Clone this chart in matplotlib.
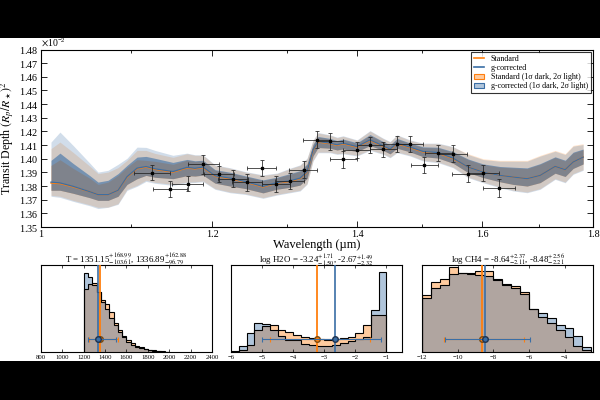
import matplotlib
matplotlib.use('Agg')
import matplotlib.pyplot as plt
from matplotlib.patches import Rectangle, Patch
from matplotlib.lines import Line2D
from matplotlib.ticker import FixedLocator, FixedFormatter, NullFormatter, ScalarFormatter, MultipleLocator
from matplotlib.colors import to_rgba
import numpy as np

plt.rcParams['font.family'] = 'serif'
plt.rcParams['font.serif'] = ['Liberation Serif', 'DejaVu Serif']
plt.rcParams['mathtext.fontset'] = 'stix'

# ---------------- data (transit depth in units of 1e-2) ----------------
obs_wl = [1.1257, 1.1477, 1.1690, 1.1887, 1.2084, 1.2273, 1.2458, 1.2650, 1.2845, 1.3037,
          1.3225, 1.3410, 1.3605, 1.3799, 1.3996, 1.4198, 1.4400, 1.4607, 1.4810, 1.5039,
          1.5264, 1.5499, 1.5752, 1.6017, 1.6287]
obs_depth = [1.3898, 1.3780, 1.3818, 1.3959, 1.3886, 1.3854, 1.3827, 1.3932, 1.3815, 1.3837,
             1.3920, 1.4139, 1.4129, 1.3995, 1.4061, 1.4100, 1.4068, 1.4110, 1.4105, 1.3956,
             1.4042, 1.4037, 1.3891, 1.3895, 1.3788]
obs_yerr = [0.0057, 0.0058, 0.0055, 0.0070, 0.0060, 0.0060, 0.0062, 0.0058, 0.0060, 0.0058,
            0.0060, 0.0062, 0.0062, 0.0060, 0.0058, 0.0060, 0.0058, 0.0058, 0.0058, 0.0060,
            0.0062, 0.0060, 0.0065, 0.0060, 0.0065]
obs_xerr = [0.0219, 0.0208, 0.0199, 0.0196, 0.0193, 0.0196, 0.0199, 0.0198, 0.0198, 0.0201,
            0.0197, 0.0190, 0.0193, 0.0201, 0.0201, 0.0204, 0.0207, 0.0210, 0.0213, 0.0216,
            0.0219, 0.0243, 0.0257, 0.0264, 0.0283]

model_wl = [1.0107, 1.0204, 1.0347, 1.0536, 1.0626, 1.0740, 1.0855, 1.0959, 1.1077, 1.1183,
            1.1291, 1.1509, 1.1682, 1.1782, 1.1883, 1.2036, 1.2230, 1.2427, 1.2667, 1.2858,
            1.3037, 1.3177, 1.3275, 1.3360, 1.3432, 1.3604, 1.3706, 1.3794, 1.4001, 1.4196,
            1.4395, 1.4502, 1.4611, 1.4815, 1.5021, 1.5263, 1.5508, 1.5758, 1.6012, 1.6304,
            1.6532, 1.6780, 1.7014, 1.7288, 1.7474, 1.7623, 1.7812]

std_med = [1.3822, 1.3818, 1.3794, 1.3758, 1.3737, 1.3737, 1.3769, 1.3864, 1.3927, 1.3939,
           1.3922, 1.3902, 1.3933, 1.3926, 1.3935, 1.3871, 1.3854, 1.3829, 1.3793, 1.3822,
           1.3834, 1.3854, 1.3902, 1.4061, 1.4122, 1.4110, 1.4098, 1.4110, 1.4085, 1.4134,
           1.4090, 1.4066, 1.4110, 1.4081, 1.4049, 1.4041, 1.4000, 1.3939, 1.3902, 1.3878,
           1.3866, 1.3854, 1.3878, 1.3944, 1.3920, 1.3976, 1.4012]
std_hi2 = [1.4074, 1.4122, 1.4047, 1.3944, 1.3891, 1.3902, 1.3935, 1.3988, 1.4061, 1.4061,
           1.4039, 1.4010, 1.4037, 1.4025, 1.4025, 1.3951, 1.3930, 1.3902, 1.3878, 1.3891,
           1.3927, 1.3951, 1.4000, 1.4134, 1.4188, 1.4171, 1.4154, 1.4164, 1.4134, 1.4202,
           1.4147, 1.4122, 1.4171, 1.4134, 1.4110, 1.4110, 1.4085, 1.4037, 1.4000, 1.3988,
           1.3988, 1.3988, 1.4025, 1.4061, 1.4037, 1.4098, 1.4110]
std_hi1 = [1.3951, 1.3993, 1.3930, 1.3856, 1.3812, 1.3829, 1.3878, 1.3937, 1.3993, 1.3988,
           1.3981, 1.3959, 1.3990, 1.3980, 1.3984, 1.3915, 1.3896, 1.3870, 1.3840, 1.3860,
           1.3886, 1.3908, 1.3957, 1.4101, 1.4158, 1.4144, 1.4128, 1.4139, 1.4112, 1.4172,
           1.4121, 1.4097, 1.4144, 1.4110, 1.4082, 1.4079, 1.4047, 1.3993, 1.3957, 1.3938,
           1.3933, 1.3928, 1.3959, 1.4009, 1.3984, 1.4043, 1.4066]
std_lo1 = [1.3769, 1.3769, 1.3747, 1.3714, 1.3695, 1.3695, 1.3725, 1.3812, 1.3854, 1.3878,
           1.3864, 1.3854, 1.3876, 1.3873, 1.3880, 1.3821, 1.3800, 1.3782, 1.3750, 1.3777,
           1.3791, 1.3807, 1.3856, 1.4021, 1.4082, 1.4077, 1.4064, 1.4072, 1.4052, 1.4097,
           1.4061, 1.4036, 1.4077, 1.4050, 1.4015, 1.4005, 1.3967, 1.3899, 1.3862, 1.3831,
           1.3812, 1.3800, 1.3825, 1.3894, 1.3870, 1.3929, 1.3962]
std_lo2 = [1.3732, 1.3725, 1.3695, 1.3662, 1.3644, 1.3646, 1.3671, 1.3776, 1.3805, 1.3842,
           1.3827, 1.3812, 1.3829, 1.3831, 1.3837, 1.3781, 1.3756, 1.3744, 1.3715, 1.3739,
           1.3756, 1.3769, 1.3818, 1.3988, 1.4049, 1.4049, 1.4037, 1.4041, 1.4025, 1.4066,
           1.4037, 1.4012, 1.4049, 1.4025, 1.3988, 1.3976, 1.3939, 1.3866, 1.3829, 1.3793,
           1.3769, 1.3756, 1.3781, 1.3854, 1.3829, 1.3891, 1.3920]

gc_med = [1.3829, 1.3823, 1.3798, 1.3758, 1.3737, 1.3737, 1.3769, 1.3868, 1.3931, 1.3943,
          1.3926, 1.3906, 1.3937, 1.3930, 1.3939, 1.3875, 1.3858, 1.3833, 1.3797, 1.3826,
          1.3838, 1.3858, 1.3906, 1.4065, 1.4126, 1.4114, 1.4102, 1.4114, 1.4089, 1.4138,
          1.4094, 1.4070, 1.4114, 1.4085, 1.4053, 1.4045, 1.4004, 1.3939, 1.3902, 1.3878,
          1.3866, 1.3854, 1.3878, 1.3944, 1.3920, 1.3976, 1.4012]
gc_hi2 = [1.4122, 1.4195, 1.4098, 1.3966, 1.3902, 1.3915, 1.3959, 1.4003, 1.4085, 1.4083,
          1.4061, 1.4025, 1.4041, 1.4029, 1.4029, 1.3955, 1.3934, 1.3906, 1.3882, 1.3895,
          1.3931, 1.3955, 1.4004, 1.4138, 1.4192, 1.4175, 1.4158, 1.4168, 1.4138, 1.4206,
          1.4151, 1.4126, 1.4175, 1.4138, 1.4114, 1.4114, 1.4089, 1.4031, 1.3994, 1.3982,
          1.3982, 1.3982, 1.4019, 1.4055, 1.4031, 1.4092, 1.4104]
gc_hi1 = [1.3988, 1.4041, 1.3966, 1.3875, 1.3829, 1.3842, 1.3891, 1.3951, 1.4012, 1.4017,
          1.4003, 1.3973, 1.3995, 1.3985, 1.3989, 1.3920, 1.3901, 1.3875, 1.3845, 1.3865,
          1.3891, 1.3913, 1.3962, 1.4106, 1.4163, 1.4149, 1.4133, 1.4144, 1.4117, 1.4177,
          1.4126, 1.4102, 1.4149, 1.4115, 1.4087, 1.4084, 1.4052, 1.3998, 1.3962, 1.3943,
          1.3938, 1.3933, 1.3964, 1.4014, 1.3989, 1.4048, 1.4071]
gc_lo1 = [1.3769, 1.3769, 1.3747, 1.3714, 1.3695, 1.3695, 1.3725, 1.3812, 1.3854, 1.3878,
          1.3864, 1.3854, 1.3876, 1.3873, 1.3880, 1.3821, 1.3800, 1.3782, 1.3750, 1.3777,
          1.3791, 1.3807, 1.3856, 1.4021, 1.4082, 1.4077, 1.4064, 1.4072, 1.4052, 1.4097,
          1.4061, 1.4036, 1.4077, 1.4050, 1.4015, 1.4005, 1.3967, 1.3899, 1.3862, 1.3831,
          1.3812, 1.3800, 1.3825, 1.3894, 1.3870, 1.3929, 1.3962]
gc_lo2 = [1.3725, 1.3717, 1.3688, 1.3655, 1.3635, 1.3644, 1.3666, 1.3768, 1.3798, 1.3834,
          1.3820, 1.3805, 1.3824, 1.3826, 1.3832, 1.3776, 1.3751, 1.3739, 1.3710, 1.3734,
          1.3751, 1.3764, 1.3813, 1.3983, 1.4044, 1.4044, 1.4032, 1.4036, 1.4020, 1.4061,
          1.4032, 1.4007, 1.4044, 1.4020, 1.3983, 1.3971, 1.3934, 1.3861, 1.3824, 1.3788,
          1.3764, 1.3751, 1.3776, 1.3849, 1.3824, 1.3886, 1.3915]

# ---------------- posterior histograms ----------------
param_names = ['T', 'log H2O', 'log CH4']
std_median = [1351.15, -3.24, -8.64]
std_err_hi = [168.99, 1.71, 2.37]
std_err_lo = [103.61, 1.50, 2.11]
gc_median = [1336.89, -2.67, -8.48]
gc_err_hi = [162.88, 1.49, 2.56]
gc_err_lo = [96.79, 2.32, 2.21]

T_edges = [1200, 1240, 1280, 1320, 1360, 1400, 1440, 1480, 1520, 1560, 1600,
           1640, 1680, 1720, 1760, 1800, 1840, 1880, 1920, 1960, 2000]
T_std = [0.727, 0.784, 0.795, 0.689, 0.595, 0.557, 0.462, 0.337, 0.254, 0.186,
         0.140, 0.102, 0.072, 0.053, 0.038, 0.027, 0.019, 0.011, 0.008, 0.004]
T_gc = [0.909, 0.860, 0.773, 0.689, 0.576, 0.500, 0.386, 0.311, 0.235, 0.170,
        0.110, 0.080, 0.057, 0.042, 0.030, 0.019, 0.011, 0.008, 0.004, 0.002]

H2O_edges = [-6.0, -5.75, -5.5, -5.25, -5.0, -4.75, -4.5, -4.25, -4.0, -3.75, -3.5,
             -3.25, -3.0, -2.75, -2.5, -2.25, -2.0, -1.75, -1.5, -1.25, -1.0]
H2O_std = [0.004, 0.027, 0.083, 0.254, 0.299, 0.311, 0.254, 0.235, 0.197, 0.170,
           0.159, 0.148, 0.140, 0.148, 0.159, 0.178, 0.216, 0.311, 0.424, 0.424]
H2O_gc = [0.008, 0.064, 0.216, 0.337, 0.322, 0.254, 0.186, 0.140, 0.133, 0.095,
          0.083, 0.072, 0.064, 0.083, 0.102, 0.121, 0.148, 0.170, 0.481, 0.917]

CH4_edges = [-12.0, -11.5, -11.0, -10.5, -10.0, -9.5, -9.0, -8.5, -8.0, -7.5, -7.0,
             -6.5, -6.0, -5.5, -5.0, -4.5, -4.0, -3.5, -3.0, -2.5]
CH4_std = [0.652, 0.803, 0.841, 0.973, 0.905, 0.905, 0.936, 0.928, 0.841, 0.784,
           0.754, 0.689, 0.489, 0.405, 0.330, 0.254, 0.170, 0.064, 0.027]
CH4_gc = [0.621, 0.739, 0.765, 0.898, 0.905, 0.898, 0.890, 0.879, 0.830, 0.773,
          0.739, 0.670, 0.500, 0.451, 0.386, 0.311, 0.273, 0.186, 0.057]

hist_edges = [T_edges, H2O_edges, CH4_edges]
hist_std = [T_std, H2O_std, CH4_std]
hist_gc = [T_gc, H2O_gc, CH4_gc]
hist_xlim = [(800, 2400), (-6, -0.5), (-12, -2.4)]
hist_ticks = [[800, 1000, 1200, 1400, 1600, 1800, 2000, 2200, 2400],
              [-6, -5, -4, -3, -2, -1],
              [-12, -10, -8, -6, -4]]

SCALE = 1e-2
C_ORANGE = '#ff7f0e'
C_BLUE = '#3a6ea5'

# ---------------- figure ----------------
fig = plt.figure(figsize=(6, 4), dpi=100)
fig.patch.set_facecolor('black')
fig.patches.append(Rectangle((0, 0.0975), 1, 0.8075, transform=fig.transFigure,
                             facecolor='white', edgecolor='none', zorder=-10))

ax = fig.add_axes([41 / 600, 1 - 227 / 400, 552 / 600, 177.5 / 400])
wl = np.array(model_wl)
s = lambda v: np.array(v) * SCALE

ax.fill_between(wl, s(std_lo2), s(std_hi2), color=C_ORANGE, alpha=0.2, lw=0, zorder=1)
ax.fill_between(wl, s(gc_lo2), s(gc_hi2), color=C_BLUE, alpha=0.23, lw=0, zorder=1)
ax.fill_between(wl, s(std_lo1), s(std_hi1), color=C_ORANGE, alpha=0.5, lw=0, zorder=2)
ax.fill_between(wl, s(gc_lo1), s(gc_hi1), color=C_BLUE, alpha=0.6, lw=0, zorder=2)
ax.plot(wl, s(std_med), color=C_ORANGE, lw=1.0, zorder=3)
ax.plot(wl, s(gc_med), color=C_BLUE, lw=0.9, zorder=4)

ax.errorbar(obs_wl, s(obs_depth), yerr=s(obs_yerr), xerr=obs_xerr, fmt='s', color='k',
            ms=1.6, lw=0.55, capsize=1.2, capthick=0.55, ecolor='#222222', zorder=5)

ax.set_xscale('log')
ax.set_xlim(1.0, 1.8)
ax.set_ylim(0.0135, 0.0148)
ax.xaxis.set_major_locator(FixedLocator([1.0, 1.2, 1.4, 1.6, 1.8]))
ax.xaxis.set_major_formatter(FixedFormatter(['1', '1.2', '1.4', '1.6', '1.8']))
ax.xaxis.set_minor_locator(FixedLocator([1.1, 1.3, 1.5, 1.7]))
ax.xaxis.set_minor_formatter(NullFormatter())
ax.yaxis.set_major_locator(MultipleLocator(0.0001))
fmt = ScalarFormatter(useMathText=True)
fmt.set_powerlimits((0, 0))
fmt.set_useOffset(False)
ax.yaxis.set_major_formatter(fmt)
ax.yaxis.get_offset_text().set_fontsize(7)
ax.tick_params(axis='both', which='both', direction='in', top=True, right=True,
               labelsize=7.3, width=0.6)
ax.tick_params(axis='both', which='major', length=4, pad=2)
ax.tick_params(axis='x', which='minor', length=2.5)
ax.set_xlabel('Wavelength (µm)', fontsize=9, labelpad=0)
ax.set_ylabel(r'Transit Depth $(R_p/R_\star)^2$', fontsize=8.6, labelpad=1)

handles = [Line2D([], [], color=C_ORANGE, lw=1.2),
           Line2D([], [], color=C_BLUE, lw=1.2),
           Patch(facecolor=to_rgba(C_ORANGE, 0.4), edgecolor=C_ORANGE, lw=0.8),
           Patch(facecolor=to_rgba(C_BLUE, 0.4), edgecolor=C_BLUE, lw=0.8)]
labels = ['Standard', 'g-corrected', 'Standard (1σ dark, 2σ light)',
          'g-corrected (1σ dark, 2σ light)']
leg = ax.legend(handles, labels, loc='upper right', fontsize=5.8, frameon=True,
                fancybox=False, borderaxespad=0.3, borderpad=0.35, labelspacing=0.15,
                handlelength=1.3, handletextpad=0.8, handleheight=0.7)
leg.get_frame().set_edgecolor('black')
leg.get_frame().set_linewidth(0.8)

# ---------------- histogram panels ----------------
lefts = [41 / 600, 231 / 600, 422 / 600]
for i in range(3):
    hx = fig.add_axes([lefts[i], 1 - 352 / 400, 171 / 600, 87 / 400])
    ed = hist_edges[i]
    hx.stairs(hist_std[i], ed, fill=True, color=C_ORANGE, alpha=0.4, lw=0, zorder=1)
    hx.stairs(hist_gc[i], ed, fill=True, color=C_BLUE, alpha=0.4, lw=0, zorder=1)
    hx.stairs(hist_std[i], ed, baseline=0, color='k', lw=0.8, zorder=2)
    hx.stairs(hist_gc[i], ed, baseline=0, color='k', lw=0.8, zorder=2)
    hx.axvline(std_median[i], color=C_ORANGE, lw=1.3, zorder=3)
    hx.axvline(gc_median[i], color=C_BLUE, lw=1.2, zorder=3)
    hx.errorbar([std_median[i]], [0.148], xerr=[[std_err_lo[i]], [std_err_hi[i]]], fmt='o',
                color=C_ORANGE, mec='#7a4a10', ms=4, lw=0.8, capsize=1.8, capthick=0.8,
                zorder=4)
    hx.errorbar([gc_median[i]], [0.148], xerr=[[gc_err_lo[i]], [gc_err_hi[i]]], fmt='o',
                color=C_BLUE, mec='#1f3350', ms=4, lw=0.8, capsize=1.8, capthick=0.8,
                zorder=5)
    hx.set_xlim(*hist_xlim[i])
    hx.set_ylim(0, 1)
    hx.set_yticks([])
    hx.set_xticks(hist_ticks[i])
    hx.tick_params(axis='x', direction='in', top=True, labelsize=4.8, length=2.5, pad=2,
                   width=0.5)
    if i == 0:
        title = r'T = {:.2f}$^{{+{:.2f}}}_{{-{:.2f}}}$, {:.2f}$^{{+{:.2f}}}_{{-{:.2f}}}$'
    else:
        title = param_names[i] + r' = {:.2f}$^{{+{:.2f}}}_{{-{:.2f}}}$, {:.2f}$^{{+{:.2f}}}_{{-{:.2f}}}$'
    hx.set_title(title.format(std_median[i], std_err_hi[i], std_err_lo[i],
                              gc_median[i], gc_err_hi[i], gc_err_lo[i]),
                 fontsize=6.4, pad=1.5)

fig.savefig('out.png', dpi=100, facecolor=fig.get_facecolor())
